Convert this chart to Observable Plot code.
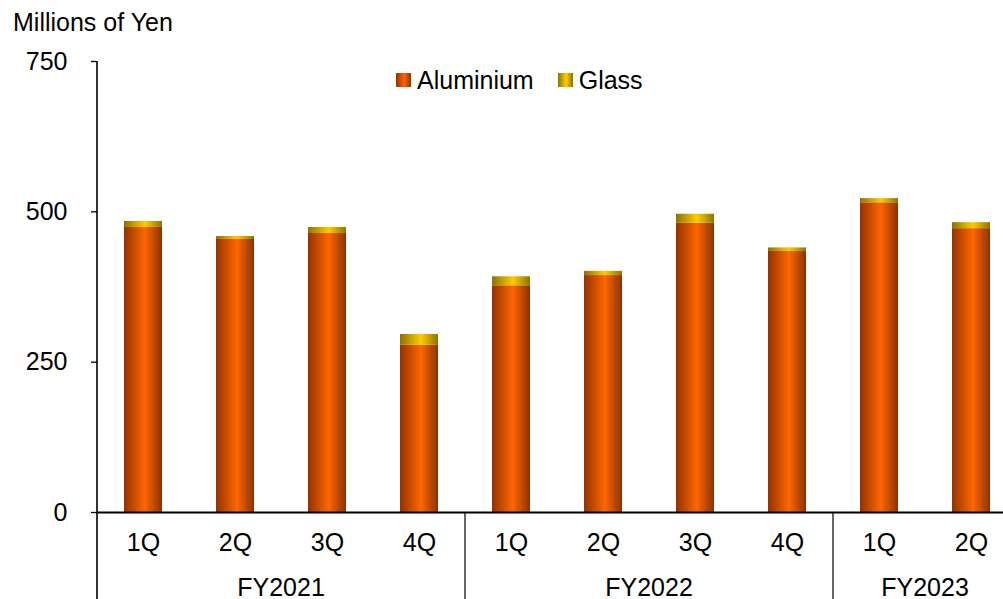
<!DOCTYPE html>
<html>
<head>
<meta charset="utf-8">
<script src="https://cdn.jsdelivr.net/npm/d3@7"></script>
<script src="https://cdn.jsdelivr.net/npm/@observablehq/plot@0.6"></script>
<style>
  html, body { margin: 0; padding: 0; background: #fff; }
  body { width: 1003px; height: 599px; overflow: hidden; position: relative;
         font-family: "Liberation Sans", Arial, sans-serif; color: #000; }
  #chart { position: absolute; left: 0; top: 0; }
  .unit { position: absolute; left: 13px; top: 7px; font-size: 25px; line-height: 30px; }
  .legend { position: absolute; top: 65px; left: 396px; display: flex; align-items: center; font-size: 25px; line-height: 30px; }
  .legend .item { display: flex; align-items: center; margin-right: 24px; }
  .legend .sw { width: 15px; height: 14px; margin-right: 6px; }
  .sw.alu { background: linear-gradient(90deg, #943300 0%, #ff6600 55%, #8a3300 100%); }
  .sw.gls { background: linear-gradient(90deg, #8c7400 0%, #ffcc00 55%, #8c7400 100%); }
</style>
</head>
<body>
<div id="chart"></div>
<div class="unit">Millions of Yen</div>
<div class="legend">
  <div class="item"><div class="sw alu"></div><span>Aluminium</span></div>
  <div class="item"><div class="sw gls"></div><span>Glass</span></div>
</div>
<script>
// Quarterly sales by material, millions of yen
const quarters = ["1Q", "2Q", "3Q", "4Q", "1Q", "2Q", "3Q", "4Q", "1Q", "2Q"];
const years = ["FY2021", "FY2021", "FY2021", "FY2021", "FY2022", "FY2022", "FY2022", "FY2022", "FY2023", "FY2023"];
const aluminium = [474, 454, 464, 278, 377, 394, 481, 434, 515, 472];
const glass = [10, 5, 10, 18, 15, 7, 15, 6, 7, 10];
const seriesNames = ["Aluminium", "Glass"];
const yTicks = [0, 250, 500, 750];

const keys = quarters.map((q, i) => `${years[i]} ${q}`);
const rows = keys.flatMap((key, i) => [
  {key, series: "Aluminium", value: aluminium[i]},
  {key, series: "Glass", value: glass[i]}
]);
const groups = Array.from(d3.group(keys.map((k, i) => ({k, y: years[i]})), d => d.y),
  ([year, list]) => ({year, first: list[0].k, last: list[list.length - 1].k}));

// Cylinder-like shading for the bars
function gradients() {
  const defs = d3.create("svg:defs");
  const add = (id, edgeL, mid, edgeR) => {
    const g = defs.append("linearGradient").attr("id", id).attr("x1", 0).attr("x2", 1).attr("y1", 0).attr("y2", 0);
    g.append("stop").attr("offset", "0%").attr("stop-color", edgeL);
    g.append("stop").attr("offset", "55%").attr("stop-color", mid);
    g.append("stop").attr("offset", "100%").attr("stop-color", edgeR);
  };
  add("alu", "#943300", "#ff6600", "#8a3300");
  add("gls", "#8c7400", "#ffcc00", "#8c7400");
  return defs.node();
}

// Axis line, fiscal-year dividers and fiscal-year labels
function yearDecor(index, scales, values, dimensions) {
  const sx = scales.x, sy = scales.y;
  const bw = typeof sx.bandwidth === "function" ? sx.bandwidth() : sx.bandwidth;
  const step = sx(keys[1]) - sx(keys[0]);
  const left = k => sx(k) + bw / 2 - step / 2;
  const right = k => sx(k) + bw / 2 + step / 2;
  const y0 = sy(0), yTop = sy(750), H = dimensions.height;
  const g = d3.create("svg:g");
  g.append("line").attr("x1", left(keys[0])).attr("x2", left(keys[0]))
    .attr("y1", yTop).attr("y2", H).attr("stroke", "#000").attr("stroke-width", 1.6);
  groups.slice(1).forEach(gr => {
    const x = left(gr.first);
    g.append("line").attr("x1", x).attr("x2", x).attr("y1", y0).attr("y2", H)
      .attr("stroke", "#000").attr("stroke-width", 1.2);
  });
  groups.forEach(gr => {
    g.append("text").attr("x", (left(gr.first) + right(gr.last)) / 2).attr("y", 587)
      .attr("text-anchor", "middle").attr("dominant-baseline", "central")
      .attr("font-size", 25).attr("fill", "#000").text(gr.year);
  });
  return g.node();
}

const chart = Plot.plot({
  width: 1003,
  height: 599,
  marginTop: 61,
  marginBottom: 87,
  marginLeft: 97,
  marginRight: 0,
  style: {fontFamily: "'Liberation Sans', Arial, sans-serif", fontSize: "25px", color: "#000", background: "#fff"},
  x: {domain: keys, range: [97, 1017], paddingInner: 0.59, paddingOuter: 0.295, axis: null},
  y: {domain: [0, 750], axis: null},
  color: {domain: seriesNames, range: ["url(#alu)", "url(#gls)"]},
  marks: [
    gradients,
    Plot.barY(rows, Plot.stackY({x: "key", y: "value", fill: "series", order: seriesNames})),
    Plot.axisY({ticks: yTicks, tickSize: 6, tickPadding: 24, tickFormat: d => d, label: null, stroke: "#000", strokeWidth: 1.3}),
    Plot.axisX({tickSize: 0, tickPadding: 21, tickFormat: k => k.split(" ")[1], label: null}),
    Plot.ruleY([0], {stroke: "#000", strokeWidth: 2}),
    yearDecor
  ]
});
document.getElementById("chart").appendChild(chart);
</script>
</body>
</html>
